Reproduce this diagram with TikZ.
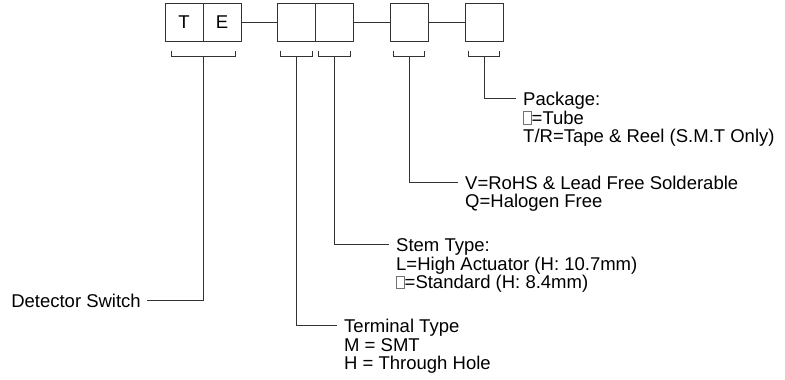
\documentclass[tikz,border=0pt]{standalone}
\usepackage{fontspec}
\setmainfont{Liberation Sans}
\usetikzlibrary{calc}

% small grey square used as "blank" code letter
\newcommand{\blanksq}{{\setlength{\fboxsep}{0pt}\setlength{\fboxrule}{0.5pt}\color{black!55}\fbox{\rule{0pt}{12.3pt}\hspace{7.5pt}}}}
% left aligned lines, baseline on the first line
\newcommand{\desclines}[1]{\vtop{\halign{##\hfil\cr#1\crcr}}}

% bracket under one or two code boxes, with its mid point as coordinate
\newcommand{\codebracket}[4]{%
  \draw[ln] ([xshift=#3,yshift=-9pt]#1.south west) -- ++(0,6) -| ([xshift=-#3,yshift=-9pt]#2.south east);
  \coordinate (#4) at ($(#1.south west)!0.5!(#2.south east)+(0,15)$);}

\begin{document}
\begin{tikzpicture}[x=1pt,y=-1pt,
    cell/.style={draw=black!80, line width=1pt, minimum size=38pt, inner sep=0pt, font=\fontsize{18.5}{18}\selectfont},
    ln/.style={draw=black!80, line width=1pt},
    txt/.style={anchor=base west, inner sep=0pt, font=\fontsize{18.5}{18.3}\selectfont}]
    \useasboundingbox (0,0) rectangle (785,380);

    % code boxes
    \node[cell] (t) at (184,22) {T};
    \node[cell] (e) at (222,22) {E};
    \node[cell] (b3) at (296.5,22) {};
    \node[cell] (b4) at (334.5,22) {};
    \node[cell] (b5) at (409,22) {};
    \node[cell] (b6) at (484,22) {};
    \draw[ln] (e) -- (b3);
    \draw[ln] (b4) -- (b5);
    \draw[ln] (b5) -- (b6);

    % brackets
    \codebracket{t}{e}{6.5pt}{te-b}
    \codebracket{b3}{b3}{3.5pt}{b3-b}
    \codebracket{b4}{b4}{3.5pt}{b4-b}
    \codebracket{b5}{b5}{4pt}{b5-b}
    \codebracket{b6}{b6}{4pt}{b6-b}

    % descriptions
    \node[txt, anchor=base east] (det) at (141,307.3) {Detector Switch};
    \node[txt] (term) at (344,332.7) {\desclines{Terminal Type\cr M = SMT\cr H = Through Hole}};
    \node[txt] (stem) at (396,251.7) {\desclines{Stem Type:\cr L=High Actuator (H: 10.7mm)\cr \blanksq=Standard (H: 8.4mm)}};
    \node[txt] (rohs) at (465,189.3) {\desclines{V=RoHS \& Lead Free Solderable\cr Q=Halogen Free}};
    \node[txt] (pkg) at (523,105.7) {\desclines{Package:\cr \blanksq=Tube\cr T/R=Tape \& Reel (S.M.T Only)}};

    \draw[ln] (te-b) |- ([xshift=6pt,yshift=6.6pt]det.base east);
    \draw[ln] (b3-b) |- ([xshift=-7pt,yshift=7pt]term.base west);
    \draw[ln] (b4-b) |- ([xshift=-7pt,yshift=7pt]stem.base west);
    \draw[ln] (b5-b) |- ([xshift=-7pt,yshift=7pt]rohs.base west);
    \draw[ln] (b6-b) |- ([xshift=-7pt,yshift=7pt]pkg.base west);
\end{tikzpicture}
\end{document}
